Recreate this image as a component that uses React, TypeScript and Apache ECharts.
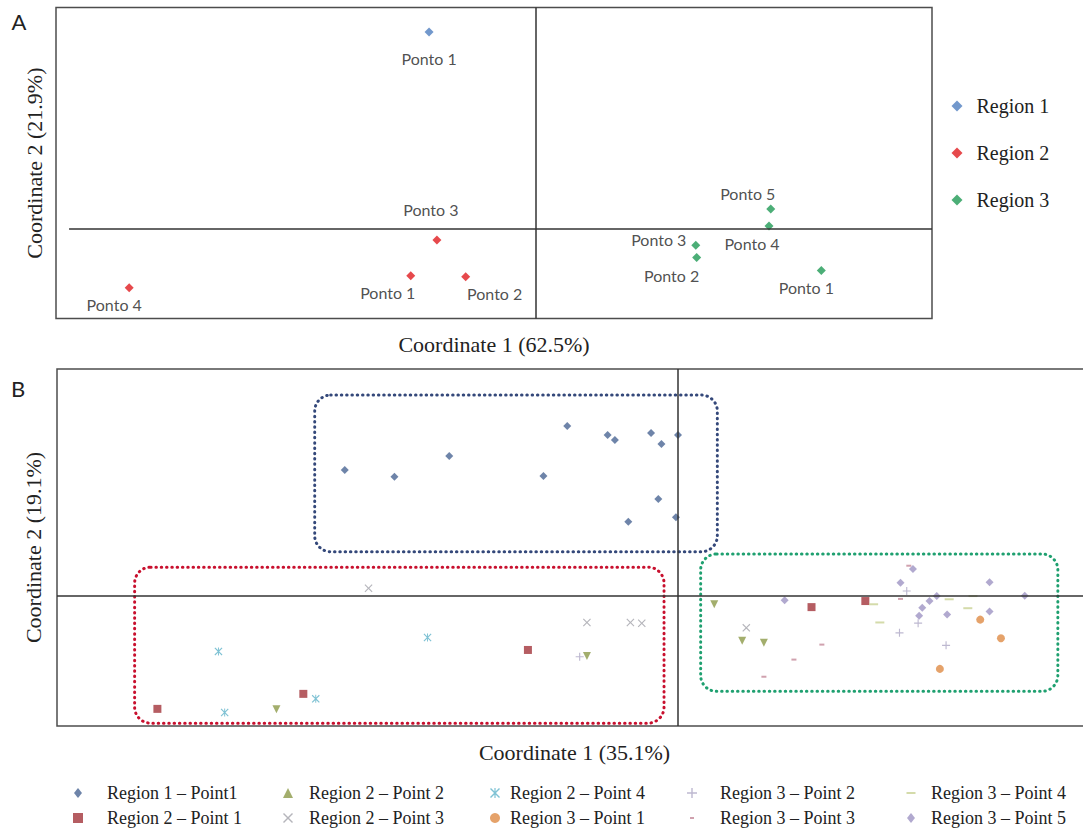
import React, { useEffect, useRef } from "react";
import * as echarts from "echarts";

// ---------------- Panel A (region centroids) ----------------
const region1NamesA = ["Ponto 1"];
const region1A: number[][] = [[-0.122, 0.633]];
const region2NamesA = ["Ponto 3", "Ponto 1", "Ponto 2", "Ponto 4"];
const region2A: number[][] = [
  [-0.113, -0.037],
  [-0.143, -0.152],
  [-0.08, -0.155],
  [-0.466, -0.191],
];
const region3NamesA = ["Ponto 5", "Ponto 4", "Ponto 3", "Ponto 2", "Ponto 1"];
const region3A: number[][] = [
  [0.27, 0.063],
  [0.268, 0.008],
  [0.184, -0.054],
  [0.185, -0.093],
  [0.328, -0.135],
];
const regionNamesA = ["Region 1", "Region 2", "Region 3"];

// ---------------- Panel B (individual samples) ----------------
const r1p1B: number[][] = [
  [-0.322, 0.352], [-0.274, 0.333], [-0.221, 0.391], [-0.13, 0.335], [-0.107, 0.475],
  [-0.068, 0.45], [-0.061, 0.436], [-0.026, 0.456], [-0.016, 0.425], [0.0, 0.45],
  [-0.019, 0.271], [-0.048, 0.207], [-0.002, 0.22],
];
const r2p1B: number[][] = [[-0.503, -0.317], [-0.362, -0.275], [-0.145, -0.152], [0.129, -0.032], [0.181, -0.015]];
const r2p2B: number[][] = [[-0.388, -0.318], [-0.088, -0.169], [0.035, -0.024], [0.062, -0.126], [0.083, -0.132]];
const r2p3B: number[][] = [[-0.299, 0.021], [-0.088, -0.075], [-0.046, -0.075], [-0.035, -0.077], [0.066, -0.09]];
const r2p4B: number[][] = [[-0.444, -0.156], [-0.438, -0.327], [-0.35, -0.289], [-0.242, -0.117]];
const r3p1B: number[][] = [[0.292, -0.067], [0.312, -0.119], [0.253, -0.205]];
const r3p2B: number[][] = [[-0.095, -0.171], [0.221, 0.013], [0.232, -0.077], [0.214, -0.104], [0.259, -0.139]];
const r3p3B: number[][] = [[0.223, 0.084], [0.215, -0.009], [0.139, -0.137], [0.112, -0.179], [0.083, -0.227]];
const r3p4B: number[][] = [[0.189, -0.024], [0.195, -0.075], [0.262, -0.01], [0.28, -0.035], [0.285, -0.001]];
const r3p5B: number[][] = [
  [0.103, -0.013], [0.215, 0.036], [0.227, 0.075], [0.301, 0.038], [0.335, 0.0],
  [0.25, -0.001], [0.243, -0.015], [0.236, -0.034], [0.233, -0.056], [0.26, -0.053], [0.301, -0.044],
];
const seriesNamesB = [
  "Region 1 – Point1",
  "Region 2 – Point 1",
  "Region 2 – Point 2",
  "Region 2 – Point 3",
  "Region 2 – Point 4",
  "Region 3 – Point 1",
  "Region 3 – Point 2",
  "Region 3 – Point 3",
  "Region 3 – Point 4",
  "Region 3 – Point 5",
];
const seriesDataB = [r1p1B, r2p1B, r2p2B, r2p3B, r2p4B, r3p1B, r3p2B, r3p3B, r3p4B, r3p5B];

// cluster enclosures in panel B: [xMin, yMin, xMax, yMax]
const clusterBoxes: number[][] = [
  [-0.351, 0.123, 0.038, 0.562],
  [-0.525, -0.357, -0.0135, 0.08],
  [0.0219, -0.268, 0.367, 0.117],
];

const axisTitles = {
  ax: "Coordinate 1 (62.5%)",
  ay: "Coordinate 2 (21.9%)",
  bx: "Coordinate 1 (35.1%)",
  by: "Coordinate 2 (19.1%)",
};

// ---------------- styles ----------------
const SERIF = '"Liberation Serif", "Times New Roman", serif';
const SANS = 'Lato, "Open Sans", sans-serif';
const regionColorsA = ["#4F7EBF", "#E01B1F", "#1F9A55"];
const labelOffsetsA = [
  [[0, 26]],
  [[-6, -31], [-23, 17], [29, 17], [-15, 17]],
  [[-23, -16], [-17, 17], [-37, -6], [-25, 18], [-15, 17]],
];
const X_PATH = "path://M0,1L1,0L5,4L9,0L10,1L6,5L10,9L9,10L5,6L1,10L0,9L4,5Z";
const STAR_PATH = "path://M0,1L1,0L5,4L9,0L10,1L6,5L10,9L9,10L5,6L1,10L0,9L4,5Z M4.4,0L5.6,0L5.6,10L4.4,10Z";
const PLUS_PATH = "path://M4.3,0H5.7V4.3H10V5.7H5.7V10H4.3V5.7H0V4.3H4.3Z";
const DIAMOND_PATH = "path://M5,0L9,5L5,10L1,5Z";
const colorsB = ["#4A6593", "#A3353B", "#8C9A48", "#A2A2AA", "#5FB3C9", "#DE8B45", "#ADA6C4", "#C4899A", "#C9D295", "#9D94C3"];
const symbolsB = ["diamond", "rect", "triangle", X_PATH, STAR_PATH, "circle", PLUS_PATH, "rect", "rect", "diamond"];
const symbolSizesB: any[] = [8, 8, 8, 8, 8, 8, 8, [5, 2], [9, 2], 8];
const symbolRotateB = [0, 0, 180, 0, 0, 0, 0, 0, 0, 0];
const legendIconsB = [
  DIAMOND_PATH, "rect", "triangle", X_PATH, STAR_PATH, "circle", PLUS_PATH,
  "path://M0,0M10,10M3,4H7V6H3Z",
  "path://M0,0M10,10M0.5,4H9.5V6H0.5Z",
  DIAMOND_PATH,
];
const clusterColors = ["#34487A", "#C8102E", "#1FA070"];
const legendColsB = [
  { left: 73, pad: 19, items: [0, 1] },
  { left: 283, pad: 11, items: [2, 3] },
  { left: 490, pad: 5, items: [4, 5] },
  { left: 687, pad: 18, items: [6, 7] },
  { left: 906, pad: 10, items: [8, 9] },
];

function buildOption(): any {
  const namesA = [region1NamesA, region2NamesA, region3NamesA];
  const dataA = [region1A, region2A, region3A];
  const lineStyle = { color: "#333", width: 1.5, type: "solid" };

  const seriesA = regionNamesA.map((nm, i) => ({
    type: "scatter",
    name: nm,
    xAxisIndex: 0,
    yAxisIndex: 0,
    symbol: "diamond",
    symbolSize: 9,
    itemStyle: { color: regionColorsA[i] },
    z: 3,
    label: {
      show: true,
      formatter: "{b}",
      position: "inside",
      fontFamily: SANS,
      fontSize: 16,
      color: "#222",
    },
    data: dataA[i].map((v, j) => ({
      value: v,
      name: namesA[i][j],
      label: { offset: labelOffsetsA[i][j] },
    })),
    markLine:
      i === 0
        ? {
            silent: true,
            symbol: ["none", "none"],
            label: { show: false },
            lineStyle,
            data: [[{ coord: [-0.535, 0] }, { coord: [0.455, 0] }], { xAxis: 0 }],
          }
        : undefined,
  }));

  const seriesB = seriesNamesB.map((nm, i) => ({
    type: "scatter",
    name: nm,
    xAxisIndex: 1,
    yAxisIndex: 1,
    symbol: symbolsB[i],
    symbolSize: symbolSizesB[i],
    symbolRotate: symbolRotateB[i],
    itemStyle: { color: colorsB[i] },
    z: 3,
    data: seriesDataB[i],
    markLine:
      i === 0
        ? {
            silent: true,
            symbol: ["none", "none"],
            label: { show: false },
            lineStyle,
            data: [{ yAxis: 0 }, { xAxis: 0 }],
          }
        : undefined,
  }));

  const boxes = {
    type: "custom",
    name: "clusters",
    xAxisIndex: 1,
    yAxisIndex: 1,
    silent: true,
    z: 1,
    encode: { x: [0, 2], y: [1, 3] },
    data: clusterBoxes,
    renderItem: (params: any, api: any) => {
      const p1 = api.coord([api.value(0), api.value(3)]);
      const p2 = api.coord([api.value(2), api.value(1)]);
      return {
        type: "rect",
        shape: { x: p1[0], y: p1[1], width: p2[0] - p1[0], height: p2[1] - p1[1], r: 16 },
        style: {
          fill: "none",
          stroke: clusterColors[params.dataIndex],
          lineWidth: 3,
          lineDash: [0.5, 4.8],
          lineCap: "round",
        },
      };
    },
  };

  const hiddenAxis = (extra: any) => ({
    type: "value",
    axisLine: { show: false, onZero: false },
    axisTick: { show: false },
    axisLabel: { show: false },
    splitLine: { show: false },
    nameLocation: "middle",
    nameTextStyle: { fontFamily: SERIF, fontSize: 22, color: "#222" },
    ...extra,
  });

  const legendText = { fontFamily: SERIF, fontSize: 18, color: "#222" };

  return {
    animation: false,
    backgroundColor: "#ffffff",
    grid: [
      { left: 56, top: 7.6, width: 876, height: 311, show: true, borderColor: "#4d4d4d", borderWidth: 1.5 },
      { left: 57, top: 369, width: 1035, height: 357, show: true, borderColor: "#4d4d4d", borderWidth: 1.5 },
    ],
    xAxis: [
      hiddenAxis({ gridIndex: 0, min: -0.55, max: 0.455, name: axisTitles.ax, nameGap: 15 }),
      hiddenAxis({ gridIndex: 1, min: -0.6, max: 0.4, name: axisTitles.bx, nameGap: 15 }),
    ],
    yAxis: [
      hiddenAxis({ gridIndex: 0, min: -0.29, max: 0.712, name: axisTitles.ay, nameGap: 11 }),
      hiddenAxis({ gridIndex: 1, min: -0.365, max: 0.635, name: axisTitles.by, nameGap: 13 }),
    ],
    legend: [
      {
        orient: "vertical",
        left: 951.5,
        top: 96,
        padding: 0,
        itemWidth: 11,
        itemHeight: 11,
        itemGap: 27,
        icon: "diamond",
        selectedMode: false,
        data: regionNamesA,
        textStyle: { fontFamily: SERIF, fontSize: 20, color: "#222", padding: [0, 0, 0, 9] },
      },
      ...legendColsB.map((c) => ({
        orient: "vertical",
        left: c.left,
        top: 784,
        padding: 0,
        itemWidth: 10,
        itemHeight: 10,
        itemGap: 7,
        selectedMode: false,
        symbolRotate: 0,
        data: c.items.map((k) => ({ name: seriesNamesB[k], icon: legendIconsB[k] })),
        textStyle: { ...legendText, padding: [0, 0, 0, c.pad] },
      })),
    ],
    graphic: [
      {
        type: "text",
        x: 19,
        y: 21,
        style: { text: "A", align: "center", verticalAlign: "middle", fontFamily: SANS, fontSize: 22, fill: "#222" },
      },
      {
        type: "text",
        x: 18,
        y: 388,
        style: { text: "B", align: "center", verticalAlign: "middle", fontFamily: SANS, fontSize: 22, fill: "#222" },
      },
    ],
    series: [...seriesA, boxes, ...seriesB],
  };
}

export default function App() {
  const ref = useRef<HTMLDivElement>(null);
  useEffect(() => {
    if (!ref.current) return;
    const chart = echarts.init(ref.current, undefined, { renderer: "svg" });
    chart.setOption(buildOption());
    return () => chart.dispose();
  }, []);
  return (
    <div
      style={{
        position: "absolute",
        left: 0,
        top: 0,
        width: 1083,
        height: 832,
        overflow: "hidden",
        background: "#fff",
      }}
    >
      <div ref={ref} style={{ width: 1100, height: 832 }} />
    </div>
  );
}
